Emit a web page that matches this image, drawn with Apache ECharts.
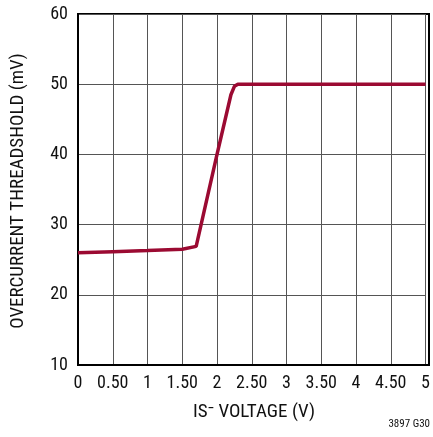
<!DOCTYPE html>
<html>
<head>
<meta charset="utf-8">
<script src="https://cdn.jsdelivr.net/npm/echarts@6/dist/echarts.min.js"></script>
<style>
  html, body { margin: 0; padding: 0; background: #fff; }
  #chart { width: 433px; height: 437px; }
</style>
</head>
<body>
<div id="chart"></div>
<script>
// IS- voltage (V) vs overcurrent threshold (mV)
const voltage = [0, 0.5, 1, 1.5, 1.7, 2.0, 2.2, 2.25, 2.3, 3, 4, 5];
const threshold = [26, 26.15, 26.3, 26.5, 26.9, 40, 48.5, 49.7, 50, 50, 50, 50];
const xTickLabels = ["0", "0.50", "1", "1.50", "2", "2.50", "3", "3.50", "4", "4.50", "5"];
const yTicks = [10, 20, 30, 40, 50, 60];

const font = '"Liberation Sans Narrow", "Roboto Condensed", "Liberation Sans", sans-serif';

const chart = echarts.init(document.getElementById("chart"));
const option = {
  animation: false,
  grid: { left: 78, right: 4, top: 14, bottom: 72 },
  xAxis: {
    type: "value",
    min: 0,
    max: 5,
    interval: 0.5,
    axisLine: { show: true, lineStyle: { color: "#000", width: 2 } },
    axisTick: { show: false },
    splitLine: { show: true, lineStyle: { color: "#555", width: 1 } },
    axisLabel: {
      color: "#111",
      fontFamily: font,
      fontSize: 18,
      margin: 9,
      formatter: (v) => xTickLabels[Math.round(v * 2)]
    }
  },
  yAxis: {
    type: "value",
    min: yTicks[0],
    max: yTicks[yTicks.length - 1],
    interval: 10,
    axisLine: { show: true, lineStyle: { color: "#000", width: 2 } },
    axisTick: { show: false },
    splitLine: { show: true, lineStyle: { color: "#555", width: 1 } },
    axisLabel: { color: "#111", fontFamily: font, fontSize: 18, margin: 10 }
  },
  graphic: [
    // frame on top/right
    {
      type: "rect",
      shape: { x: 78, y: 14, width: 351, height: 351 },
      style: { fill: "none", stroke: "#000", lineWidth: 2 },
      silent: true
    },
    {
      type: "text",
      x: 18, y: 191,
      rotation: Math.PI / 2,
      style: {
        text: "OVERCURRENT THREADSHOLD (mV)",
        fontFamily: font, fontSize: 19, fill: "#111",
        align: "center", verticalAlign: "middle"
      }
    },
    {
      type: "text",
      x: 254, y: 412,
      style: {
        text: "IS\u207B VOLTAGE (V)",
        fontFamily: font, fontSize: 19, fill: "#111",
        align: "center", verticalAlign: "middle"
      }
    },
    {
      type: "text",
      x: 430, y: 424,
      style: {
        text: "3897 G30",
        fontFamily: font, fontSize: 11, fill: "#111",
        align: "right", verticalAlign: "middle"
      }
    }
  ],
  series: [
    {
      type: "line",
      data: voltage.map((v, i) => [v, threshold[i]]),
      showSymbol: false,
      lineStyle: { color: "#9b0a32", width: 3.5 },
      z: 5
    }
  ]
};
chart.setOption(option);
</script>
</body>
</html>
